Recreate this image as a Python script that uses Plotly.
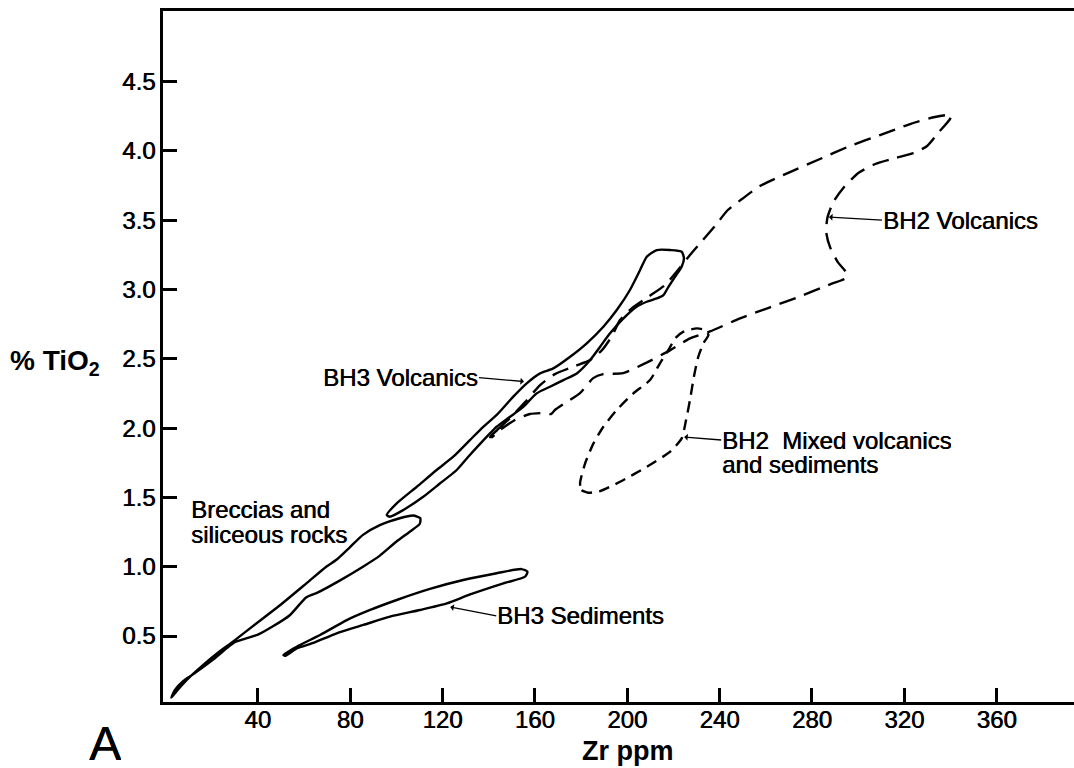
import plotly.graph_objects as go

# ---- axis ticks ----
x_ticks = [40, 80, 120, 160, 200, 240, 280, 320, 360]
y_ticks = [0.5, 1.0, 1.5, 2.0, 2.5, 3.0, 3.5, 4.0, 4.5]
y_tick_text = ["0.5", "1.0", "1.5", "2.0", "2.5", "3.0", "3.5", "4.0", "4.5"]

# ---- field outlines (Zr ppm, % TiO2) ----
brec_zr = [2.6, 4.1, 7.7, 13.4, 20.7, 27.2, 30.1, 34.4, 40.1, 46.6, 53.9, 61.1, 66.1, 75.5,
           85.6, 92.9, 100.0, 106.5, 110.2, 110.4, 107.3, 101.5, 92.9, 85.6, 79.9, 74.1,
           69.7, 61.1, 49.5, 39.4, 29.3, 23.6, 16.3, 9.1, 4.8, 2.6]
brec_ti = [0.055, 0.11, 0.175, 0.24, 0.33, 0.42, 0.455, 0.48, 0.51, 0.57, 0.65, 0.78, 0.815, 0.90,
           1.00, 1.08, 1.18, 1.26, 1.31, 1.35, 1.37, 1.35, 1.30, 1.23, 1.14, 1.05,
           1.00, 0.88, 0.72, 0.59, 0.46, 0.39, 0.29, 0.18, 0.10, 0.055]

sed_zr = [51.1, 56.9, 67.0, 78.6, 88.7, 100.2, 114.6, 129.0, 143.5, 154.3, 156.8, 155.8,
          146.4, 132.0, 121.9, 110.3, 97.3, 85.8, 74.2, 64.1, 56.9, 51.8, 51.1]
sed_ti = [0.363, 0.423, 0.507, 0.615, 0.688, 0.76, 0.84, 0.904, 0.953, 0.983, 0.964, 0.928,
          0.88, 0.80, 0.736, 0.688, 0.64, 0.58, 0.52, 0.45, 0.41, 0.357, 0.363]

bh3v_zr = [95.9, 100.2, 108.9, 117.5, 124.7, 131.9, 137.7, 143.5, 150.7, 156.5, 162.3, 168.0,
           175.3, 182.5, 189.7, 195.5, 201.2, 205.6, 208.5, 212.8, 218.6, 223.6, 224.6, 223.6,
           220.8, 217.9, 215.7, 212.8, 208.5, 204.1, 198.4, 192.6, 188.3, 183.9, 178.2, 172.4,
           166.6, 160.8, 155.1, 149.3, 143.5, 140.6, 136.5, 131.0, 126.2, 119.0, 111.7, 103.1,
           97.3, 95.9]
bh3v_ti = [1.373, 1.457, 1.577, 1.698, 1.794, 1.914, 2.01, 2.095, 2.227, 2.323, 2.395, 2.431,
           2.515, 2.612, 2.732, 2.852, 2.997, 3.141, 3.237, 3.285, 3.285, 3.273, 3.225, 3.165,
           3.093, 3.02, 2.96, 2.936, 2.912, 2.876, 2.792, 2.684, 2.588, 2.49, 2.395, 2.347,
           2.299, 2.251, 2.155, 2.082, 2.01, 1.962, 1.89, 1.79, 1.698, 1.602, 1.505, 1.410,
           1.361, 1.373]

bh2v_zr = [140.6, 143.7, 149.3, 155.8, 162.3, 168.7, 177.4, 183.9, 189.1, 193.4, 196.9, 202.1,
           209.0, 216.4, 222.0, 227.2, 232.8, 238.0, 243.6, 249.7, 257.5, 270.5, 283.5, 296.5,
           309.5, 322.5, 333.3, 340.3, 339.8, 334.6, 329.9, 323.9, 316.1, 307.4, 300.1, 293.6,
           289.3, 286.7, 286.2, 287.9, 291.3, 294.8, 294.4, 287.9, 274.9, 261.9, 248.9, 235.9,
           227.2, 218.5, 207.7, 198.2, 189.6, 185.3, 179.6, 173.1, 168.7, 167.0, 164.4, 157.9,
           151.4, 144.9, 141.5, 140.6]
bh2v_ti = [1.936, 1.986, 2.073, 2.188, 2.311, 2.390, 2.448, 2.491, 2.563, 2.664, 2.780, 2.866,
           2.946, 3.033, 3.141, 3.249, 3.357, 3.458, 3.574, 3.653, 3.747, 3.848, 3.942, 4.036,
           4.115, 4.194, 4.245, 4.259, 4.230, 4.129, 4.036, 3.985, 3.949, 3.906, 3.841, 3.733,
           3.632, 3.517, 3.413, 3.304, 3.196, 3.124, 3.081, 3.038, 2.951, 2.872, 2.792, 2.698,
           2.648, 2.561, 2.467, 2.397, 2.390, 2.361, 2.253, 2.181, 2.131, 2.102, 2.109, 2.102,
           2.059, 1.986, 1.936, 1.936]

bh2m_zr = [179.6, 180.3, 183.2, 188.3, 196.9, 208.5, 218.6, 223.6, 225.5, 227.2, 228.9, 230.8,
           233.0, 235.2, 233.7, 230.2, 224.4, 220.8, 217.9, 214.2, 209.9, 202.7, 195.5, 189.7,
           185.4, 181.8, 179.6]
bh2m_ti = [1.602, 1.553, 1.534, 1.546, 1.613, 1.721, 1.83, 1.926, 2.058, 2.203, 2.371, 2.515,
           2.612, 2.672, 2.708, 2.72, 2.696, 2.648, 2.564, 2.468, 2.347, 2.251, 2.131, 2.01,
           1.89, 1.746, 1.602]

FONT = "Liberation Sans, Arial, Helvetica, sans-serif"
MED = "0.6px 0px 0px black"   # slight thickening, like the medium-weight type

fig = go.Figure()
fields = [
    (brec_zr, brec_ti, "solid"),
    (sed_zr, sed_ti, "solid"),
    (bh3v_zr, bh3v_ti, "solid"),
    (bh2v_zr, bh2v_ti, "17px,9px"),
    (bh2m_zr, bh2m_ti, "11px,7px"),
]
for zx, ty, dash in fields:
    fig.add_trace(go.Scatter(x=zx, y=ty, mode="lines",
                             line=dict(color="black", width=2.4, dash=dash, shape="spline", smoothing=0.6),
                             hoverinfo="skip"))

lab_font = dict(family=FONT, size=24, color="black", shadow=MED)

# labels with arrows: text, arrow head (data), tail/text offset (px), anchor, box height
arrow_labels = [
    ("BH3 Volcanics", 155.3, 2.336, -45, -4, "right", None),
    ("BH3 Sediments", 123.4, 0.710, 46, 9, "left", None),
    ("BH2  Mixed volcanics", 224.7, 1.936, 37, 3, "left", 21),
    ("BH2 Volcanics", 287.4, 3.523, 53, 3, "left", None),
]
for txt, hx, hy, ax, ay, anc, h in arrow_labels:
    fig.add_annotation(x=hx, y=hy, ax=ax, ay=ay, text=txt, showarrow=True,
                       xanchor=anc, yanchor="middle", height=h,
                       arrowhead=1, arrowsize=0.9, arrowwidth=1.3, arrowcolor="black",
                       standoff=0, startstandoff=0, borderpad=0, font=lab_font)

labels = [
    ("and sediments", 240.7, 1.737, "left", 21),
    ("Breccias and", 10.7, 1.413, "left", None),
    ("siliceous rocks", 10.7, 1.236, "left", None),
]
for txt, lx, ly, anc, h in labels:
    fig.add_annotation(x=lx, y=ly, text=txt, showarrow=False, xanchor=anc, yanchor="middle",
                       height=h, borderpad=0, font=lab_font)

fig.add_annotation(xref="paper", yref="paper", x=0.510, y=-0.071, text="<b>Zr ppm</b>",
                   showarrow=False, xanchor="center", yanchor="middle",
                   font=dict(family=FONT, size=27, color="black"))
fig.add_annotation(xref="paper", yref="paper", x=-0.1186, y=0.492, text="<b>% TiO<sub>2</sub></b>",
                   showarrow=False, xanchor="center", yanchor="middle",
                   font=dict(family=FONT, size=28, color="black"))
fig.add_annotation(xref="paper", yref="paper", x=-0.0637, y=-0.059, text="A",
                   showarrow=False, xanchor="center", yanchor="middle", height=40, borderpad=0,
                   font=dict(family=FONT, size=48, color="black", shadow=MED))

tick_font = dict(family=FONT, size=24, color="black", shadow=MED)
fig.update_layout(
    width=1074, height=768,
    margin=dict(l=163, r=0, t=11, b=66),
    paper_bgcolor="white", plot_bgcolor="white",
    showlegend=False,
    xaxis=dict(range=[-1.0, 393.5], tickvals=x_ticks, showgrid=False, zeroline=False,
               showline=True, linecolor="black", linewidth=2.5, mirror=True,
               ticks="inside", ticklen=14, tickwidth=2.5, tickcolor="black",
               ticklabelstandoff=-6, tickfont=tick_font),
    yaxis=dict(range=[0.024, 5.01], tickvals=y_ticks, ticktext=y_tick_text, showgrid=False,
               zeroline=False, showline=True, linecolor="black", linewidth=2.5,
               ticks="inside", ticklen=14, tickwidth=2.5, tickcolor="black",
               tickfont=tick_font),
)

fig.write_html("out.html")
